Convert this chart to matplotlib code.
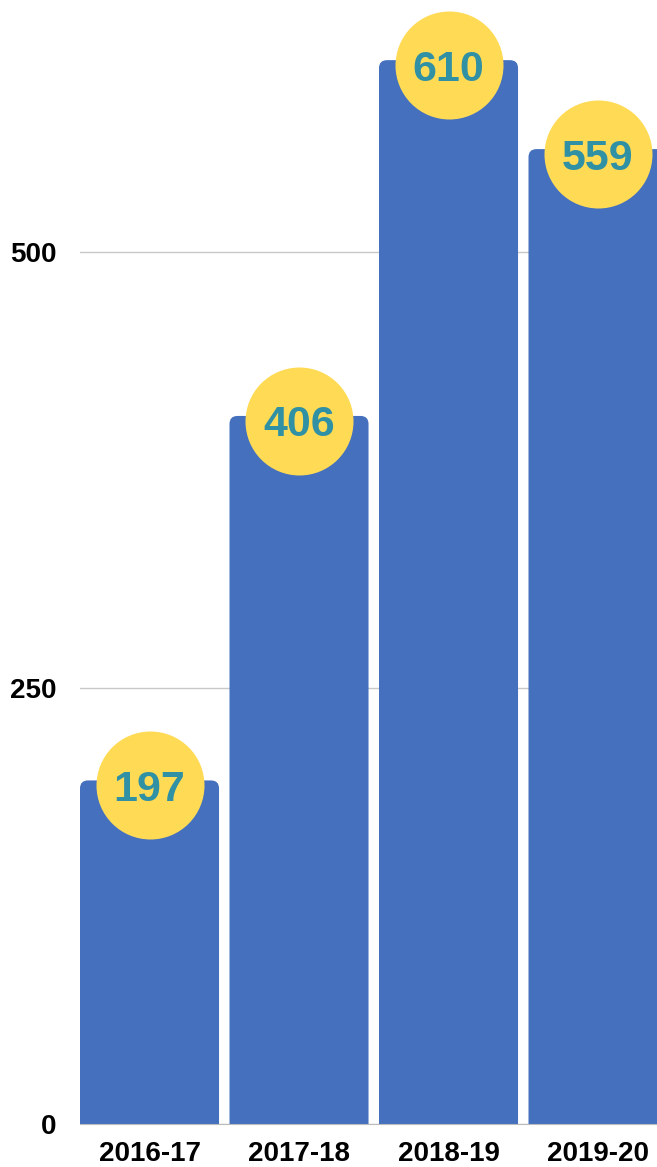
import matplotlib.pyplot as plt
from matplotlib.patches import FancyBboxPatch
from matplotlib import font_manager

years = ['2016-17', '2017-18', '2018-19', '2019-20']
counts = [197, 406, 610, 559]
yticks = [0, 250, 500]

names = {f.name for f in font_manager.fontManager.ttflist}
narrow = 'Liberation Sans Narrow' if 'Liberation Sans Narrow' in names else 'Liberation Sans'

W, H = 657, 1167
fig = plt.figure(figsize=(W / 100, H / 100), dpi=100)
ax = fig.add_axes([80 / W, 43 / H, 577 / W, 1124 / H])

bar_color = '#4470BE'
circle_color = '#FFDB55'
label_color = '#3090A4'

width = 0.93
ax.set_xlim(-width / 2, -width / 2 + 577 / 149.5)
ax.set_ylim(0, 1124 / 1.744)

# rounded top corners: draw a round box that dips below zero, clipped by the axes
px_x = 1 / 149.5
px_y = 1 / 1.744
r = 8
for i, v in enumerate(counts):
    box = FancyBboxPatch((i - width / 2, -20), width, v + 20,
                         boxstyle=f'round,pad=0,rounding_size={r * px_x}',
                         mutation_aspect=px_y / px_x,
                         facecolor=bar_color, edgecolor='none', zorder=2)
    ax.add_patch(box)

# circles sit a few pixels below the bar top
off = 5 * px_y
cy = [v - off for v in counts]
ax.scatter(range(len(counts)), cy, s=(108 * 0.72) ** 2, color=circle_color,
           zorder=3, clip_on=False, linewidths=0)
for i, v in enumerate(counts):
    ax.text(i, cy[i], str(v), ha='center', va='center_baseline', fontsize=31,
            fontweight='bold', color=label_color, family='Liberation Sans', zorder=4)

ax.set_yticks(yticks)
ax.set_yticklabels([str(t) for t in yticks], fontsize=20, fontweight='bold',
                   family='Liberation Sans')
ax.set_xticks(range(len(years)))
ax.set_xticklabels(years, fontsize=20, fontweight='bold', family=narrow)
ax.tick_params(axis='y', length=0, pad=17)
ax.tick_params(axis='x', length=0, pad=12)
ax.grid(axis='y', color='#C8C8C8', linewidth=1, zorder=0)
ax.set_axisbelow(True)
for s in ['top', 'right', 'left']:
    ax.spines[s].set_visible(False)
ax.spines['bottom'].set_color('#BBBBBB')
ax.spines['bottom'].set_zorder(5)

fig.savefig('out.png', dpi=100)
